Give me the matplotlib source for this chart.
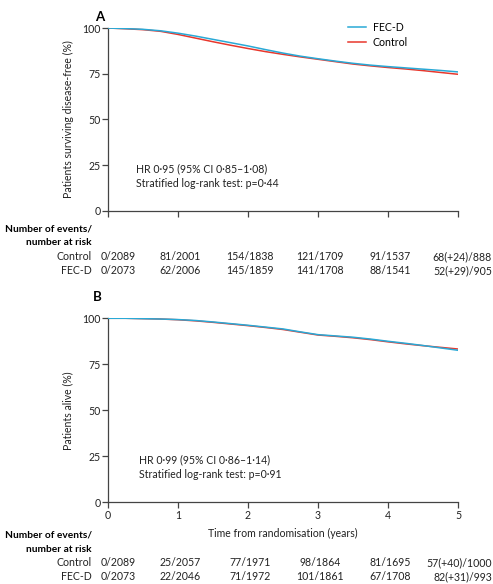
import matplotlib
matplotlib.use("Agg")
import matplotlib.pyplot as plt
import matplotlib.transforms as mtransforms

plt.rcParams['font.family'] = ['Lato', 'DejaVu Sans']

# survival curves (years, %)
t = [0, 0.25, 0.5, 0.75, 1.0, 1.25, 1.5, 1.75, 2.0, 2.25, 2.5, 2.75, 3.0, 3.25, 3.5, 3.75, 4.0, 4.25, 4.5, 4.75, 5.0]
dfs_fecd = [100, 99.7, 99.3, 98.5, 97.2, 95.6, 93.8, 92.0, 90.2, 88.2, 86.3, 84.6, 83.2, 81.9, 80.7, 79.7, 78.9, 78.2, 77.5, 76.8, 76.0]
dfs_ctrl = [100, 99.6, 99.1, 98.2, 96.5, 94.5, 92.5, 90.6, 88.8, 87.1, 85.6, 84.2, 82.9, 81.6, 80.3, 79.3, 78.4, 77.6, 76.7, 75.7, 74.7]
os_fecd = [100, 100, 99.8, 99.6, 99.3, 98.8, 98.0, 97.1, 96.2, 95.2, 94.2, 92.6, 91.1, 90.4, 89.7, 88.7, 87.5, 86.4, 85.2, 83.9, 82.6]
os_ctrl = [100, 100, 99.8, 99.6, 99.2, 98.6, 97.8, 96.9, 96.0, 95.0, 93.9, 92.4, 90.9, 90.2, 89.4, 88.4, 87.2, 86.1, 85.1, 84.2, 83.3]

risk_cols = [0, 1, 2, 3, 4, 5]
dfs_risk_ctrl = ["0/2089", "81/2001", "154/1838", "121/1709", "91/1537", "68(+24)/888"]
dfs_risk_fecd = ["0/2073", "62/2006", "145/1859", "141/1708", "88/1541", "52(+29)/905"]
os_risk_ctrl = ["0/2089", "25/2057", "77/1971", "98/1864", "81/1695", "57(+40)/1000"]
os_risk_fecd = ["0/2073", "22/2046", "71/1972", "101/1861", "67/1708", "82(+31)/993"]

blue = '#29a9d6'
red = '#e8372c'
grey = '#444444'
ink = '#222222'
fs = 7.6

fig = plt.figure(figsize=(4.93, 5.84), dpi=100)
axA = fig.add_axes([0.219, 0.639, 0.710, 0.313])
axB = fig.add_axes([0.219, 0.140, 0.710, 0.315])


def style(ax, ylabel):
    ax.set_xlim(0, 5)
    ax.set_ylim(0, 100)
    ax.set_xticks(range(6))
    ax.set_yticks([0, 25, 50, 75, 100])
    for s in ['top', 'right']:
        ax.spines[s].set_visible(False)
    for s in ['left', 'bottom']:
        ax.spines[s].set_color(grey)
        ax.spines[s].set_linewidth(0.9)
    ax.tick_params(direction='out', length=4, width=0.9, color=grey,
                   labelsize=fs, labelcolor=ink, pad=1.5)
    ax.set_ylabel(ylabel, fontsize=fs, color=ink, labelpad=6)
    ax.patch.set_alpha(0)


# panel A
axA.plot(t, dfs_fecd, color=blue, lw=1.1, label='FEC-D', zorder=3)
axA.plot(t, dfs_ctrl, color=red, lw=1.1, label='Control', zorder=2)
style(axA, 'Patients surviving disease-free (%)')
axA.set_xticklabels([])
axA.legend(loc='upper left', bbox_to_anchor=(0.66, 1.085), frameon=False,
           fontsize=fs, handlelength=1.7, handletextpad=0.6, labelspacing=0.35)
axA.text(0.08, 0.21, 'HR 0·95 (95% CI 0·85–1·08)', transform=axA.transAxes, fontsize=fs, color=ink)
axA.text(0.08, 0.13, 'Stratified log-rank test: p=0·44', transform=axA.transAxes, fontsize=fs, color=ink)

# panel B
axB.plot(t, os_ctrl, color=red, lw=1.1, zorder=2)
axB.plot(t, os_fecd, color=blue, lw=1.1, zorder=3)
style(axB, 'Patients alive (%)')
axB.set_xlabel('Time from randomisation (years)', fontsize=fs, color=ink, labelpad=5)
axB.text(0.09, 0.21, 'HR 0·99 (95% CI 0·86–1·14)', transform=axB.transAxes, fontsize=fs, color=ink)
axB.text(0.09, 0.13, 'Stratified log-rank test: p=0·91', transform=axB.transAxes, fontsize=fs, color=ink)

fig.text(0.193, 0.971, 'A', fontsize=9.5, fontweight='bold', ha='left', va='center')
fig.text(0.189, 0.491, 'B', fontsize=9.5, fontweight='bold', ha='left', va='center')


def risk_table(ax, ys, ctrl, fecd):
    tr = mtransforms.blended_transform_factory(ax.transData, fig.transFigure)
    lx = 92 / 493
    fig.text(lx, ys[0], 'Number of events/', fontsize=7.3, fontweight='bold', ha='right', va='center')
    fig.text(lx, ys[1], 'number at risk', fontsize=7.3, fontweight='bold', ha='right', va='center')
    fig.text(lx, ys[2], 'Control', fontsize=fs, ha='right', va='center', color=ink)
    fig.text(lx, ys[3], 'FEC-D', fontsize=fs, ha='right', va='center', color=ink)
    for row, y in [(ctrl, ys[2]), (fecd, ys[3])]:
        for i, (x, s) in enumerate(zip(risk_cols, row)):
            if i == 0:
                ax.text(x - 0.11, y, s, transform=tr, fontsize=fs, ha='left', va='center', color=ink)
            elif i == len(row) - 1:
                fig.text(0.998, y, s, fontsize=fs, ha='right', va='center', color=ink)
            else:
                ax.text(x + 0.03, y, s, transform=tr, fontsize=fs, ha='center', va='center', color=ink)


risk_table(axA, [1 - 229 / 584, 1 - 243 / 584, 1 - 257 / 584, 1 - 271 / 584], dfs_risk_ctrl, dfs_risk_fecd)
risk_table(axB, [1 - 535 / 584, 1 - 550 / 584, 1 - 563 / 584, 1 - 577 / 584], os_risk_ctrl, os_risk_fecd)

fig.savefig('out.png', dpi=100)
